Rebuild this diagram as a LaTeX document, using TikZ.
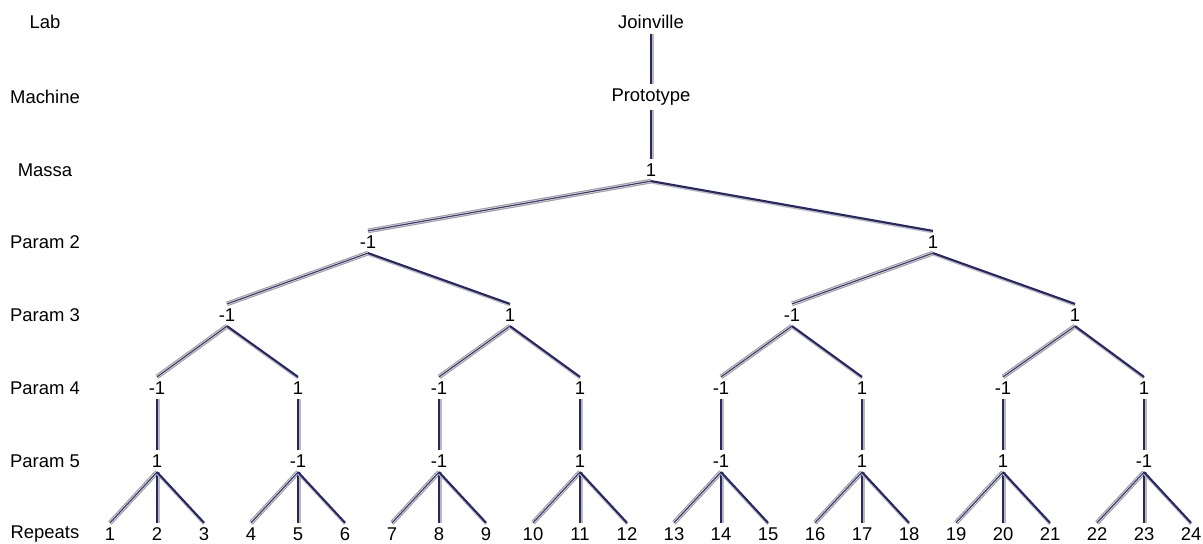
\documentclass[tikz,border=0pt]{standalone}
\usepackage{fontspec}
\setmainfont{Liberation Sans}
\definecolor{edgeblue}{RGB}{38,38,105}

\begin{document}
\begin{tikzpicture}[x=0.02cm, y=-0.02cm,
  every node/.style={inner sep=2.5pt, font=\fontsize{10.5}{12}\selectfont},
  vedge/.style={draw=edgeblue, line width=1.3pt,
    preaction={draw=gray!55, line width=1.6pt, transform canvas={xshift=0.8pt}}},
  leftedge/.style={draw=edgeblue!90, line width=0.7pt,
    preaction={draw=gray!75, double=white!85!gray, double distance=1.4pt, line width=0.65pt}},
  rightedge/.style={draw=edgeblue, line width=1.2pt,
    preaction={draw=gray!50, line width=1.5pt, transform canvas={yshift=-0.7pt}}}]

\useasboundingbox (0,0) rectangle (1203,544);

% row labels
\node (lab) at (45,22) {Lab};
\node (machine) at (45,97) {Machine};
\node (massa) at (45,170) {Massa};
\node (param2) at (45,242) {Param 2};
\node (param3) at (45,315) {Param 3};
\node (param4) at (45,388) {Param 4};
\node (param5) at (45,461) {Param 5};
\node (repeats) at (45,534) {Repeats};

% tree
\node (joinville) at (651,22) {Joinville};
\node (proto) at (651,97) {Prototype};
\node (m) at (651,170) {1};

\node (a1) at (368,242) {-1};
\node (a2) at (933,242) {1};

\node (b1) at (227,315) {-1};
\node (b2) at (510,315) {1};
\node (b3) at (792,315) {-1};
\node (b4) at (1075,315) {1};

\node (c1) at (157,388) {-1};
\node (c2) at (298,388) {1};
\node (c3) at (439,388) {-1};
\node (c4) at (580,388) {1};
\node (c5) at (721,388) {-1};
\node (c6) at (862,388) {1};
\node (c7) at (1003,388) {-1};
\node (c8) at (1144,388) {1};

\node (d1) at (157,461) {1};
\node (d2) at (298,461) {-1};
\node (d3) at (439,461) {-1};
\node (d4) at (580,461) {1};
\node (d5) at (721,461) {-1};
\node (d6) at (862,461) {1};
\node (d7) at (1003,461) {1};
\node (d8) at (1144,461) {-1};

\foreach \i in {1,...,24}
  \node (r\i) at ({63+47*\i},534) {\i};

\draw[vedge] (joinville) -- (proto);
\draw[vedge] (proto) -- (m);

\draw[leftedge] (m.south) -- (a1.north);
\draw[rightedge] (m.south) -- (a2.north);

\draw[leftedge] (a1.south) -- (b1.north);
\draw[rightedge] (a1.south) -- (b2.north);
\draw[leftedge] (a2.south) -- (b3.north);
\draw[rightedge] (a2.south) -- (b4.north);

\draw[leftedge] (b1.south) -- (c1.north);
\draw[rightedge] (b1.south) -- (c2.north);
\draw[leftedge] (b2.south) -- (c3.north);
\draw[rightedge] (b2.south) -- (c4.north);
\draw[leftedge] (b3.south) -- (c5.north);
\draw[rightedge] (b3.south) -- (c6.north);
\draw[leftedge] (b4.south) -- (c7.north);
\draw[rightedge] (b4.south) -- (c8.north);

\foreach \k in {1,...,8}
  \draw[vedge] (c\k) -- (d\k);

\foreach \p/\l/\c/\r in {d1/r1/r2/r3, d2/r4/r5/r6, d3/r7/r8/r9, d4/r10/r11/r12,
    d5/r13/r14/r15, d6/r16/r17/r18, d7/r19/r20/r21, d8/r22/r23/r24} {
  \draw[leftedge] (\p.south) -- (\l.north);
  \draw[vedge] (\p.south) -- (\c.north);
  \draw[rightedge] (\p.south) -- (\r.north);
}
\end{tikzpicture}
\end{document}
